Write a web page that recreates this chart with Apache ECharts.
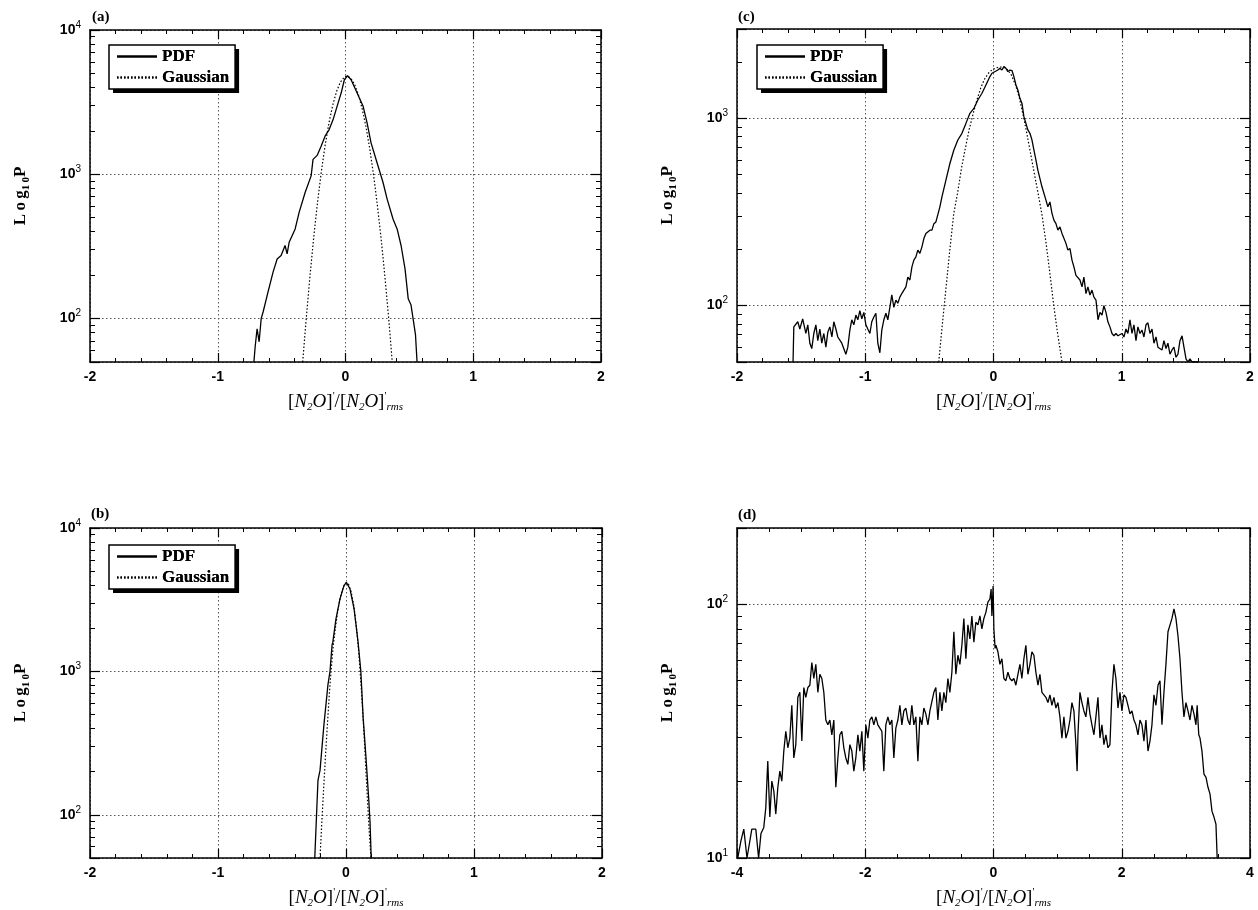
<!DOCTYPE html>
<html>
<head>
<meta charset="utf-8">
<title>N2O PDF</title>
<script src="https://cdn.jsdelivr.net/npm/echarts@6/dist/echarts.min.js"></script>
<style>
  html, body { margin: 0; padding: 0; background: #fff; }
  #main { width: 1258px; height: 910px; }
</style>
</head>
<body>
<div id="main"></div>
<script>
var chart = echarts.init(document.getElementById('main'));

// (a) PDF and Gaussian fit, [x, P]
var pdfA = [[-0.717,50],[-0.707,64],[-0.692,85],[-0.676,69],[-0.660,100],[-0.645,111],[-0.613,145],[-0.567,210],[-0.535,259],[-0.504,274],[-0.473,321],[-0.457,281],[-0.441,338],[-0.394,418],[-0.363,545],[-0.316,748],[-0.269,975],[-0.254,1268],[-0.222,1352],[-0.191,1567],[-0.160,1836],[-0.128,2042],[-0.097,2393],[-0.066,2958],[-0.034,3656],[-0.009,4520],[0.016,4820],[0.044,4520],[0.091,3656],[0.138,2958],[0.169,2270],[0.200,1652],[0.247,1202],[0.294,877],[0.326,673],[0.372,490],[0.404,418],[0.435,321],[0.466,221],[0.491,137],[0.513,124],[0.529,100],[0.548,77],[0.560,50]];
var gaussA = [[-0.335,50],[-0.31,94],[-0.28,189],[-0.25,356],[-0.22,628],[-0.19,1030],[-0.16,1578],[-0.13,2259],[-0.10,3013],[-0.07,3750],[-0.04,4355],[-0.01,4721],[0.01,4800],[0.04,4645],[0.07,4217],[0.10,3589],[0.13,2858],[0.16,2138],[0.19,1500],[0.22,984],[0.25,605],[0.28,350],[0.31,189],[0.34,96],[0.366,50]];

// (b)
var pdfB = [[-0.244,50],[-0.219,174],[-0.203,204],[-0.172,429],[-0.141,809],[-0.125,1000],[-0.109,1528],[-0.103,1600],[-0.078,2333],[-0.047,3206],[-0.016,3963],[0.003,4180],[0.031,3758],[0.063,2735],[0.094,1610],[0.116,1000],[0.134,476],[0.156,252],[0.178,127],[0.188,88],[0.197,50]];
var gaussB = [[-0.203,50],[-0.19,85],[-0.175,150],[-0.16,260],[-0.145,430],[-0.13,700],[-0.115,1050],[-0.10,1500],[-0.08,2100],[-0.06,2800],[-0.04,3400],[-0.02,3900],[0.0,4150],[0.02,4050],[0.04,3600],[0.06,2900],[0.08,2100],[0.10,1350],[0.12,750],[0.14,380],[0.16,170],[0.18,80],[0.195,50]];

// (c)
var pdfC = [[-1.563,50],[-1.557,77],[-1.526,82],[-1.510,75],[-1.488,85],[-1.463,71],[-1.448,79],[-1.432,63],[-1.417,59],[-1.401,71],[-1.385,79],[-1.370,65],[-1.354,75],[-1.339,63],[-1.323,71],[-1.307,60],[-1.292,72],[-1.276,77],[-1.260,68],[-1.245,82],[-1.229,75],[-1.214,68],[-1.183,63],[-1.151,55],[-1.136,60],[-1.120,74],[-1.105,84],[-1.089,79],[-1.073,89],[-1.058,84],[-1.042,94],[-1.027,85],[-1.011,92],[-0.995,79],[-0.980,75],[-0.964,71],[-0.949,82],[-0.933,87],[-0.917,91],[-0.902,63],[-0.886,56],[-0.871,74],[-0.855,84],[-0.839,91],[-0.824,84],[-0.808,98],[-0.793,114],[-0.777,98],[-0.761,107],[-0.746,103],[-0.730,111],[-0.715,116],[-0.683,126],[-0.668,142],[-0.652,137],[-0.636,161],[-0.621,175],[-0.605,182],[-0.590,198],[-0.574,190],[-0.558,206],[-0.543,228],[-0.527,243],[-0.512,238],[-0.496,253],[-0.480,253],[-0.465,274],[-0.449,280],[-0.434,286],[-0.418,337],[-0.402,381],[-0.371,468],[-0.340,574],[-0.309,678],[-0.278,766],[-0.246,832],[-0.215,940],[-0.184,1064],[-0.153,1130],[-0.122,1253],[-0.090,1361],[-0.059,1507],[-0.028,1671],[-0.012,1741],[0.003,1778],[0.034,1811],[0.050,1850],[0.066,1811],[0.081,1890],[0.097,1850],[0.112,1778],[0.128,1811],[0.144,1800],[0.159,1671],[0.175,1507],[0.190,1419],[0.206,1279],[0.222,1202],[0.237,1021],[0.253,940],[0.268,867],[0.284,832],[0.300,766],[0.315,678],[0.331,599],[0.346,529],[0.378,431],[0.409,366],[0.424,337],[0.440,358],[0.456,311],[0.471,286],[0.487,274],[0.502,253],[0.518,263],[0.534,243],[0.565,215],[0.580,198],[0.596,202],[0.612,175],[0.627,161],[0.643,145],[0.658,148],[0.674,137],[0.690,126],[0.705,142],[0.721,116],[0.736,126],[0.752,114],[0.768,121],[0.783,111],[0.799,107],[0.815,84],[0.830,92],[0.846,89],[0.861,100],[0.877,92],[0.892,82],[0.908,77],[0.924,71],[0.939,69],[0.955,71],[0.970,69],[1.002,71],[1.017,68],[1.033,75],[1.048,71],[1.064,84],[1.080,71],[1.095,79],[1.111,65],[1.126,77],[1.142,71],[1.158,74],[1.173,68],[1.189,79],[1.204,81],[1.220,71],[1.236,75],[1.251,63],[1.267,68],[1.282,60],[1.314,58],[1.329,65],[1.345,59],[1.360,63],[1.376,55],[1.392,58],[1.407,60],[1.423,53],[1.438,55],[1.454,65],[1.470,69],[1.485,60],[1.501,52],[1.516,50],[1.532,52],[1.548,50],[1.563,51],[1.579,50],[1.594,50]];
var gaussC = [[-0.427,50],[-0.40,78],[-0.37,125],[-0.34,200],[-0.31,310],[-0.28,400],[-0.25,540],[-0.22,690],[-0.19,870],[-0.16,1050],[-0.13,1250],[-0.10,1450],[-0.07,1620],[-0.04,1740],[-0.01,1820],[0.02,1860],[0.05,1880],[0.08,1870],[0.11,1820],[0.14,1700],[0.17,1520],[0.20,1300],[0.237,1000],[0.26,830],[0.29,645],[0.32,500],[0.35,390],[0.38,300],[0.41,215],[0.44,148],[0.47,100],[0.50,71],[0.534,50]];

// (d)
var pdfD = [[-3.988,10],[-3.938,11.7],[-3.894,13],[-3.844,10],[-3.769,13],[-3.707,13],[-3.663,10],[-3.626,12.5],[-3.582,13.2],[-3.551,15.8],[-3.520,24.1],[-3.488,14.5],[-3.457,20.1],[-3.426,18.4],[-3.395,14.9],[-3.363,19],[-3.332,22],[-3.301,20.1],[-3.270,26.4],[-3.239,31.6],[-3.207,27.2],[-3.176,29.7],[-3.145,40],[-3.114,24.8],[-3.083,28],[-3.051,43],[-3.020,45],[-2.989,28.9],[-2.958,47],[-2.927,43],[-2.895,47],[-2.864,48],[-2.833,59],[-2.802,51],[-2.771,58],[-2.739,45],[-2.708,53],[-2.677,51],[-2.646,45],[-2.615,35],[-2.583,33.5],[-2.552,35],[-2.521,30.6],[-2.490,35],[-2.459,19],[-2.427,24.8],[-2.396,30.6],[-2.365,31.6],[-2.334,27.2],[-2.303,24.8],[-2.271,23.4],[-2.240,28],[-2.209,26.4],[-2.178,22],[-2.147,24.8],[-2.115,30.6],[-2.084,26.4],[-2.053,31.6],[-2.022,22],[-1.991,33.5],[-1.959,29.7],[-1.928,35],[-1.897,36],[-1.866,33.5],[-1.835,36],[-1.803,33.5],[-1.772,32.5],[-1.741,31.6],[-1.710,22],[-1.679,33.5],[-1.647,36],[-1.616,33.5],[-1.585,35],[-1.554,24.8],[-1.523,32.5],[-1.491,35],[-1.460,40],[-1.429,33.5],[-1.398,38],[-1.367,39],[-1.335,35],[-1.304,33.5],[-1.273,40],[-1.242,33.5],[-1.211,36],[-1.179,24.1],[-1.148,36],[-1.117,33.5],[-1.086,39],[-1.055,37],[-1.023,33.5],[-0.992,38],[-0.961,38],[-0.930,45],[-0.899,47],[-0.867,35],[-0.836,45],[-0.805,38],[-0.774,45],[-0.743,41],[-0.711,51],[-0.680,45],[-0.649,54],[-0.618,78],[-0.587,53],[-0.555,63],[-0.524,58],[-0.493,69],[-0.462,88],[-0.431,61],[-0.399,83],[-0.368,73],[-0.337,90],[-0.306,71],[-0.275,85],[-0.243,83],[-0.212,90],[-0.181,80],[-0.150,88],[-0.119,93],[-0.087,102],[-0.056,105],[-0.037,115],[-0.025,90],[-0.006,118],[0.006,80],[0.025,67],[0.037,69],[0.069,65],[0.100,58],[0.131,61],[0.162,51],[0.193,50],[0.225,54],[0.256,51],[0.287,50],[0.318,51],[0.349,48],[0.381,53],[0.412,58],[0.443,51],[0.474,61],[0.505,69],[0.537,53],[0.568,58],[0.599,65],[0.630,63],[0.661,54],[0.693,48],[0.724,53],[0.755,45],[0.817,43],[0.849,41],[0.880,44],[0.911,40],[0.942,43],[0.973,39],[1.005,41],[1.036,36],[1.067,29.7],[1.098,36],[1.129,29.7],[1.161,31.6],[1.192,35],[1.223,41],[1.254,38],[1.285,28],[1.304,22],[1.317,30.6],[1.348,45],[1.379,41],[1.410,38],[1.441,36],[1.473,43],[1.504,37],[1.535,33.5],[1.566,30.6],[1.597,36],[1.629,43],[1.660,29.7],[1.691,33.5],[1.722,28],[1.753,30.6],[1.785,27.2],[1.816,28],[1.847,45],[1.878,58],[1.909,51],[1.941,39],[1.972,45],[2.003,38],[2.034,44],[2.065,43],[2.097,40],[2.128,37],[2.159,38],[2.190,35],[2.221,33.5],[2.253,30.6],[2.284,35],[2.315,33.5],[2.346,28.9],[2.377,35],[2.409,26.4],[2.440,28.9],[2.471,33.5],[2.502,44],[2.533,40],[2.565,48],[2.596,50],[2.627,33.5],[2.658,45],[2.689,58],[2.721,78],[2.752,79],[2.783,88],[2.814,96],[2.845,88],[2.877,75],[2.908,61],[2.939,45],[2.970,36],[3.001,41],[3.033,38],[3.064,35],[3.095,40],[3.126,37],[3.157,33.5],[3.176,40],[3.201,30.6],[3.220,29.7],[3.251,26.4],[3.282,21.4],[3.314,20.8],[3.345,19],[3.376,17.9],[3.407,15.3],[3.438,14.5],[3.469,13.6],[3.488,10]];

// log axis minor tick values
var minorAB = [60,70,80,90,200,300,400,500,600,700,800,900,2000,3000,4000,5000,6000,7000,8000,9000];
var minorC = [60,70,80,90,200,300,400,500,600,700,800,900,2000];
var minorD = [20,30,40,50,60,70,80,90];

var serif = 'Liberation Serif', sans = 'Liberation Sans';

var panels = [
  { tag: '(a)', tagPos: [92, 10], grid: {left: 90, top: 30, width: 511, height: 332},
    x: [-2, 2, 1, 5], y: [50, 10000], minor: minorAB, pdf: pdfA, gauss: gaussA, legend: [109, 45] },
  { tag: '(b)', tagPos: [91, 507], grid: {left: 90, top: 528, width: 512, height: 334},
    x: [-2, 2, 1, 5], y: [50, 10000], minor: minorAB, pdf: pdfB, gauss: gaussB, legend: [109, 545] },
  { tag: '(c)', tagPos: [738, 10], grid: {left: 737, top: 29, width: 513, height: 333},
    x: [-2, 2, 1, 5], y: [50, 3000], minor: minorC, pdf: pdfC, gauss: gaussC, legend: [757, 45] },
  { tag: '(d)', tagPos: [738, 508], grid: {left: 737, top: 528, width: 513, height: 333},
    x: [-4, 4, 2, 4], y: [10, 200], minor: minorD, pdf: pdfD, gauss: null, legend: null }
];

function powLabel(v) {
  var e = Math.log(v) / Math.LN10, r = Math.round(e);
  if (Math.abs(e - r) > 1e-6) return '';
  return '{b|10}{e|' + r + '}';
}

var black = '#000';
var gridDots = {color: '#555', width: 1, type: [1.5, 2.5]};
var xName = '{t|[}{i|N}{s|2}{i|O}{t|]}{p|\'}{t|/[}{i|N}{s|2}{i|O}{t|]}{p|\'}{s|rms}';
var xRich = {
  t: {fontFamily: serif, fontSize: 19, color: black, lineHeight: 22},
  i: {fontFamily: serif, fontSize: 19, fontStyle: 'italic', color: black, lineHeight: 22},
  s: {fontFamily: serif, fontSize: 11, fontStyle: 'italic', color: black, lineHeight: 10, verticalAlign: 'bottom'},
  p: {fontFamily: serif, fontSize: 11, color: black, lineHeight: 10, verticalAlign: 'top'}
};
var yName = '{a|L\u2009o\u2009g}{s|1\u20090}{a|P}';
var yRich = {
  a: {fontFamily: serif, fontSize: 17, fontWeight: 'bold', color: black, lineHeight: 22},
  s: {fontFamily: serif, fontSize: 11, fontWeight: 'bold', color: black, lineHeight: 10, verticalAlign: 'bottom'}
};

var grids = [], xAxes = [], yAxes = [], series = [], legends = [], titles = [];

function legendBox(pos, framed) {
  var l = {
    orient: 'vertical', left: pos[0], top: pos[1],
    data: ['PDF', 'Gaussian'], selectedMode: false,
    itemWidth: 40, itemHeight: 14, itemGap: 4,
    padding: [3, 6, 3, 7],
    itemStyle: {color: 'rgba(0,0,0,0)', borderColor: 'rgba(0,0,0,0)', borderWidth: 0},
    textStyle: {fontFamily: serif, fontWeight: 'bold', fontSize: 17, color: black}
  };
  if (framed) {
    // border only, drawn on top
    l.backgroundColor = 'rgba(0,0,0,0)';
    l.borderColor = black;
    l.borderWidth = 1.5;
  } else {
    // white box casting a hard black shadow
    l.backgroundColor = '#fff';
    l.borderWidth = 0;
    l.shadowColor = black;
    l.shadowBlur = 0;
    l.shadowOffsetX = 4;
    l.shadowOffsetY = 4;
  }
  return l;
}

panels.forEach(function (p, i) {
  grids.push(Object.assign({show: false}, p.grid));
  titles.push({text: p.tag, left: p.tagPos[0], top: p.tagPos[1], padding: 0,
    textStyle: {fontFamily: serif, fontSize: 15, fontWeight: 'bold', color: black}});

  ['bottom', 'top'].forEach(function (pos) {
    var main = pos === 'bottom';
    xAxes.push({
      gridIndex: i, type: 'value', position: pos,
      min: p.x[0], max: p.x[1], interval: p.x[2],
      axisLine: {show: true, onZero: false, lineStyle: {color: black, width: 1.5}},
      axisTick: {show: true, inside: true, length: 9, lineStyle: {color: black, width: 1.2}},
      minorTick: {show: true, splitNumber: p.x[3], length: 4, lineStyle: {color: black, width: 1}},
      axisLabel: {show: main, margin: 8, color: black, fontFamily: sans, fontSize: 14, fontWeight: 'bold',
        showMinLabel: true, showMaxLabel: true},
      splitLine: {show: main, lineStyle: gridDots},
      name: main ? xName : '', nameLocation: 'middle', nameGap: 29,
      nameTextStyle: {rich: xRich}
    });
  });

  ['left', 'right'].forEach(function (pos) {
    var main = pos === 'left';
    yAxes.push({
      gridIndex: i, type: 'log', logBase: 10, position: pos,
      min: p.y[0], max: p.y[1],
      axisLine: {show: true, onZero: false, lineStyle: {color: black, width: 1.5}},
      axisTick: {show: true, inside: true, length: 10, lineStyle: {color: black, width: 1.2}},
      axisLabel: {show: main, margin: 9, formatter: powLabel,
        rich: {
          b: {fontFamily: sans, fontSize: 14, fontWeight: 'bold', color: black, lineHeight: 20},
          e: {fontFamily: sans, fontSize: 10, color: black, lineHeight: 10, verticalAlign: 'top'}
        }},
      splitLine: {show: main, lineStyle: gridDots},
      name: main ? yName : '', nameLocation: 'middle', nameGap: 58,
      nameTextStyle: {rich: yRich}
    });
  });
  ['left', 'right'].forEach(function (pos) {
    yAxes.push({
      gridIndex: i, type: 'log', logBase: 10, position: pos,
      min: p.y[0], max: p.y[1],
      axisLine: {show: false, onZero: false},
      axisTick: {show: true, inside: true, length: 5, customValues: p.minor, lineStyle: {color: black, width: 1}},
      axisLabel: {show: false},
      splitLine: {show: false}
    });
  });

  series.push({
    name: 'PDF', type: 'line', xAxisIndex: i * 2, yAxisIndex: i * 4,
    data: p.pdf, symbol: 'none', clip: true,
    lineStyle: {color: black, width: 1.3}, itemStyle: {color: black}
  });
  if (p.gauss) {
    series.push({
      name: 'Gaussian', type: 'line', xAxisIndex: i * 2, yAxisIndex: i * 4,
      data: p.gauss, symbol: 'none', clip: true,
      lineStyle: {color: black, width: 1.2, type: [1.5, 2]}, itemStyle: {color: black}
    });
  }
  if (p.legend) {
    legends.push(legendBox(p.legend, false));
    legends.push(legendBox(p.legend, true));
  }
});

var option = {
  animation: false,
  backgroundColor: '#fff',
  title: titles,
  grid: grids,
  xAxis: xAxes,
  yAxis: yAxes,
  legend: legends,
  series: series
};
chart.setOption(option);
</script>
</body>
</html>
